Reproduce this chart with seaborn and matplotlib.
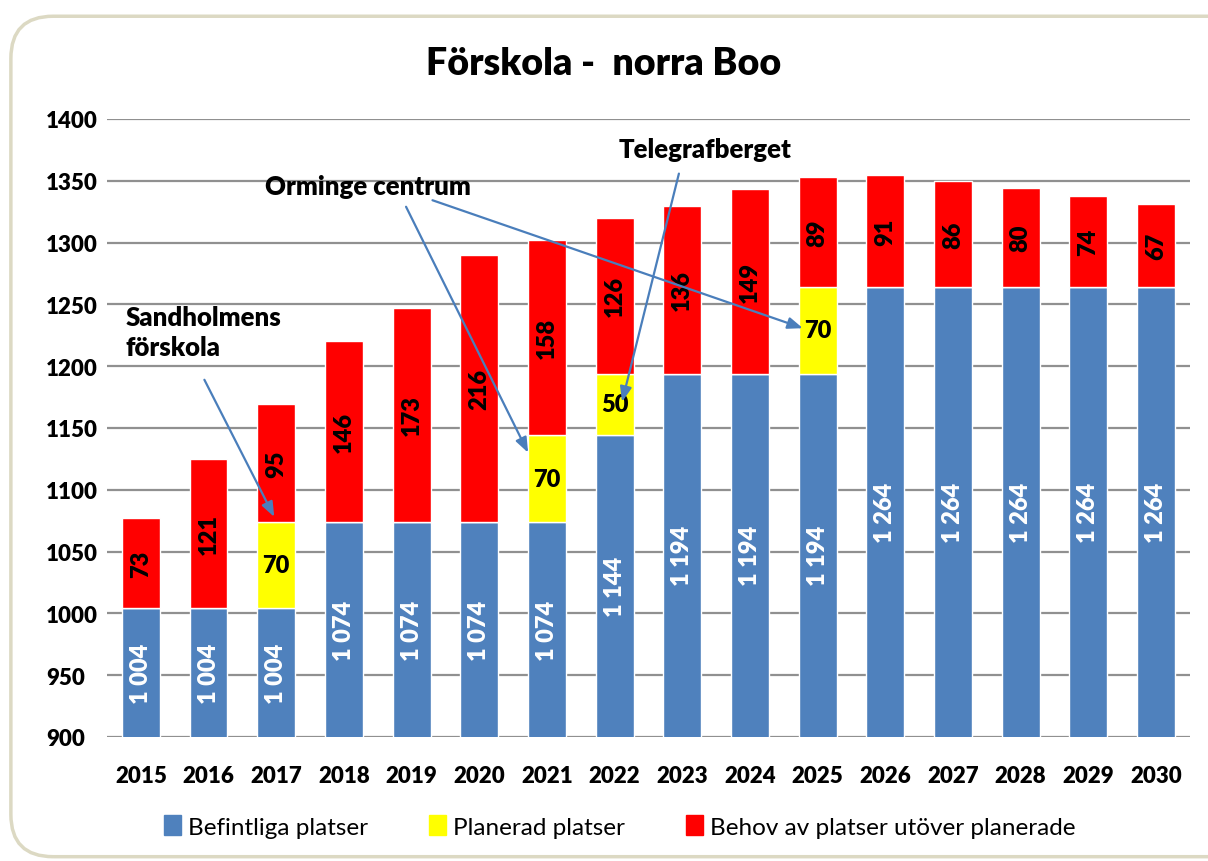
import matplotlib
matplotlib.use("Agg")
import matplotlib.pyplot as plt
from matplotlib.patches import Patch, FancyBboxPatch
import seaborn as sns
import pandas as pd

# --- data ---
years = [str(y) for y in range(2015, 2031)]
befintliga = [1004, 1004, 1004, 1074, 1074, 1074, 1074, 1144, 1194, 1194, 1194, 1264, 1264, 1264, 1264, 1264]
planerad = [0, 0, 70, 0, 0, 0, 70, 50, 0, 0, 70, 0, 0, 0, 0, 0]
behov = [73, 121, 95, 146, 173, 216, 158, 126, 136, 149, 89, 91, 86, 80, 74, 67]

df = pd.DataFrame({"year": years, "befintliga": befintliga, "planerad": planerad, "behov": behov})
df["bottom_behov"] = df["befintliga"] + df["planerad"]

BLUE = "#4f81bd"
YELLOW = "#ffff00"
RED = "#ff0000"

sns.set_style("white")
plt.rcParams["font.family"] = ["Lato", "DejaVu Sans"]
plt.rcParams["text.color"] = "black"
plt.rcParams["xtick.color"] = "black"
plt.rcParams["ytick.color"] = "black"

fig = plt.figure(figsize=(12.08, 8.62), dpi=100)
ax = fig.add_axes([0.0886, 0.1439, 0.8964, 0.7169])

# rounded frame
frame = FancyBboxPatch((0.009, 0.005), 1.2, 0.975, boxstyle="round,pad=0,rounding_size=0.035",
                       transform=fig.transFigure, facecolor="none", edgecolor="#dcd9c3", lw=2.5,
                       mutation_aspect=1208 / 862)
fig.patches.append(frame)

w = 0.56
sns.barplot(data=df, x="year", y="befintliga", color=BLUE, width=w, saturation=1, ax=ax, zorder=3)
sns.barplot(data=df, x="year", y="planerad", color=YELLOW, width=w, saturation=1, ax=ax,
            bottom=df["befintliga"], zorder=3)
sns.barplot(data=df, x="year", y="behov", color=RED, width=w, saturation=1, ax=ax,
            bottom=df["bottom_behov"], zorder=3)

ax.set_ylim(900, 1400)
ax.set_xlim(-0.5, len(years) - 0.5)
ax.set_yticks(range(900, 1401, 50))
ax.set_xlabel("")
ax.set_ylabel("")
ax.yaxis.grid(True, color="#909090", lw=1.6, zorder=0)
for s in ax.spines.values():
    s.set_visible(False)
ax.tick_params(axis="both", length=0, labelsize=16)
ax.tick_params(axis="y", pad=44)
ax.tick_params(axis="x", pad=20)
for lab in ax.get_xticklabels() + ax.get_yticklabels():
    lab.set_fontweight("heavy")
for lab in ax.get_yticklabels():
    lab.set_horizontalalignment("left")

# value labels
for i, row in df.iterrows():
    b = row["befintliga"]
    ax.text(i, (900 + b) / 2, f"{b // 1000} {b % 1000:03d}", rotation=90, ha="center", va="center",
            color="white", fontsize=17, fontweight="heavy", zorder=5)
    if row["planerad"] > 0:
        ax.text(i, b + row["planerad"] / 2, str(row["planerad"]), ha="center", va="center",
                color="black", fontsize=17, fontweight="heavy", zorder=5)
    ax.text(i, row["bottom_behov"] + row["behov"] / 2, str(row["behov"]), rotation=90, ha="center",
            va="center", color="black", fontsize=17, fontweight="heavy", zorder=5)

# annotations with arrows
arrow = dict(arrowstyle="-|>,head_length=0.9,head_width=0.35", color="#4a7ebb", lw=1.6)
ax.text(-0.23, 1228, "Sandholmens\nförskola", ha="left", va="center", fontsize=18.5,
        fontweight="heavy", linespacing=1.3, zorder=6)
ax.annotate("", xy=(1.99, 1076), xytext=(0.92, 1191), arrowprops=arrow, zorder=6)

ax.text(3.36, 1346, "Orminge centrum", ha="center", va="center", fontsize=18.5, fontweight="heavy", zorder=6)
ax.annotate("", xy=(5.74, 1128), xytext=(3.9, 1331), arrowprops=arrow, zorder=6)
ax.annotate("", xy=(9.82, 1230), xytext=(4.27, 1335), arrowprops=arrow, zorder=6)

ax.text(8.33, 1376, "Telegrafberget", ha="center", va="center", fontsize=18.5, fontweight="heavy", zorder=6)
ax.annotate("", xy=(7.1, 1169), xytext=(7.96, 1358), arrowprops=arrow, zorder=6)

fig.text(0.5, 0.926, "Förskola -  norra Boo", ha="center", va="center", fontsize=27, fontweight="heavy")

handles = [Patch(color=BLUE, label="Befintliga platser"),
           Patch(color=YELLOW, label="Planerad platser"),
           Patch(color=RED, label="Behov av platser utöver planerade")]
fig.legend(handles=handles, loc="center", bbox_to_anchor=(0.513, 0.04), ncol=3, frameon=False,
           fontsize=17.5, handlelength=0.7, handleheight=0.9, handletextpad=0.3, columnspacing=2.5)

fig.savefig("out.png", dpi=100)
